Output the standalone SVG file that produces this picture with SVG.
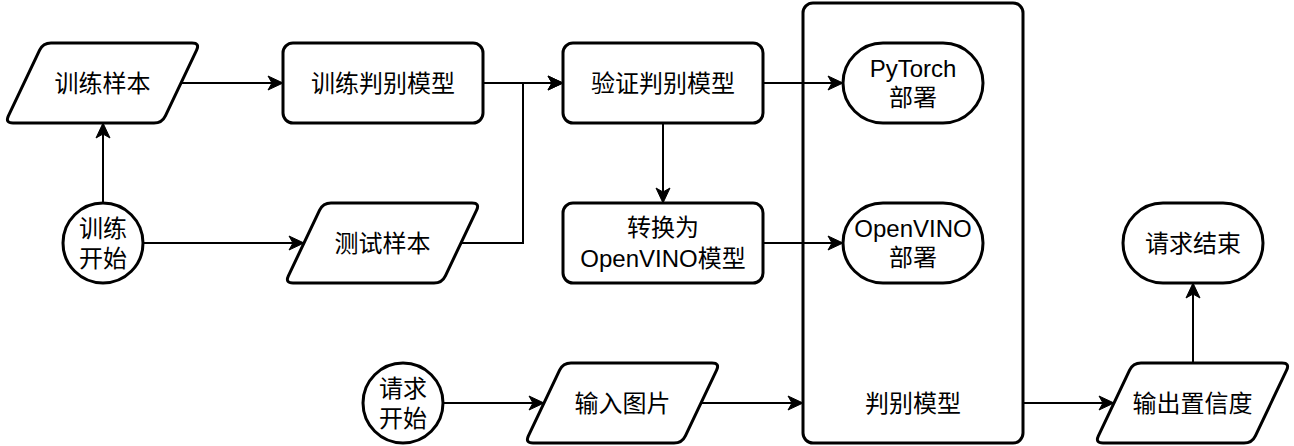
<svg xmlns="http://www.w3.org/2000/svg" width="1294" height="446" viewBox="0 0 1294 446">
<style>
.n{fill:#fff;stroke:#000;stroke-width:3}
.c{fill:none;stroke:#000;stroke-width:2;marker-end:url(#a)}
text{font-family:"Liberation Sans","Noto Sans CJK SC",sans-serif;font-size:24px;fill:#000;text-anchor:middle;dominant-baseline:central}
</style>
<defs>
<marker id="a" markerUnits="userSpaceOnUse" markerWidth="18" markerHeight="16" refX="16" refY="8" orient="auto">
<path d="M1,1 L16,8 L1,15 L5,8 Z" fill="#000" stroke="#000" stroke-width="1"/>
</marker>
</defs>
<rect fill="#fff" width="1294" height="446"/>
<g id="model">
<rect class="n" x="803" y="3" width="220" height="440" rx="10"/>
<text x="913" y="403">判别模型</text>
</g>
<g id="connectors">
<path class="c" d="M103,203 L103,123"/>
<path class="c" d="M143,243 L304,243"/>
<path class="c" d="M181,83 L283,83"/>
<path class="c" d="M483,83 L563,83"/>
<path class="c" d="M461,243 L523,243 L523,83 L563,83"/>
<path class="c" d="M763,83 L843,83"/>
<path class="c" d="M663,123 L663,203"/>
<path class="c" d="M763,243 L843,243"/>
<path class="c" d="M443,403 L544,403"/>
<path class="c" d="M701,403 L803,403"/>
<path class="c" d="M1023,403 L1114,403"/>
<path class="c" d="M1193,363 L1193,283"/>
</g>
<g id="train_sample">
<path class="n" d="M51,43 L192,43 Q200,43 196.6,50.2 L165.4,115.8 Q162,123 154,123 L13,123 Q5,123 8.4,115.8 L39.6,50.2 Q43,43 51,43 Z"/>
<text x="102.5" y="83">训练样本</text>
</g>
<g id="train_start">
<circle class="n" cx="103" cy="243" r="40"/>
<text x="103" y="228">训练</text>
<text x="103" y="258">开始</text>
</g>
<g id="test_sample">
<path class="n" d="M331,203 L472,203 Q480,203 476.6,210.2 L445.4,275.8 Q442,283 434,283 L293,283 Q285,283 288.4,275.8 L319.6,210.2 Q323,203 331,203 Z"/>
<text x="382.5" y="243">测试样本</text>
</g>
<g id="train_model">
<rect class="n" x="283" y="43" width="200" height="80" rx="10"/>
<text x="383" y="83">训练判别模型</text>
</g>
<g id="verify_model">
<rect class="n" x="563" y="43" width="200" height="80" rx="10"/>
<text x="663" y="83">验证判别模型</text>
</g>
<g id="convert">
<rect class="n" x="563" y="203" width="200" height="80" rx="10"/>
<text x="663" y="227">转换为</text>
<text x="663" y="258">OpenVINO模型</text>
</g>
<g id="pytorch">
<rect class="n" x="843" y="43" width="140" height="80" rx="40"/>
<text x="913" y="68">PyTorch</text>
<text x="913" y="97">部署</text>
</g>
<g id="openvino">
<rect class="n" x="843" y="203" width="140" height="80" rx="40"/>
<text x="913" y="228">OpenVINO</text>
<text x="913" y="257">部署</text>
</g>
<g id="req_start">
<circle class="n" cx="403" cy="403" r="40"/>
<text x="403" y="388">请求</text>
<text x="403" y="418">开始</text>
</g>
<g id="input_img">
<path class="n" d="M571,363 L712,363 Q720,363 716.6,370.2 L685.4,435.8 Q682,443 674,443 L533,443 Q525,443 528.4,435.8 L559.6,370.2 Q563,363 571,363 Z"/>
<text x="622.5" y="403">输入图片</text>
</g>
<g id="output_conf">
<path class="n" d="M1141,363 L1282,363 Q1290,363 1286.6,370.2 L1255.4,435.8 Q1252,443 1244,443 L1103,443 Q1095,443 1098.4,435.8 L1129.6,370.2 Q1133,363 1141,363 Z"/>
<text x="1192.5" y="403">输出置信度</text>
</g>
<g id="req_end">
<rect class="n" x="1123" y="203" width="140" height="80" rx="40"/>
<text x="1193" y="243">请求结束</text>
</g>
</svg>
